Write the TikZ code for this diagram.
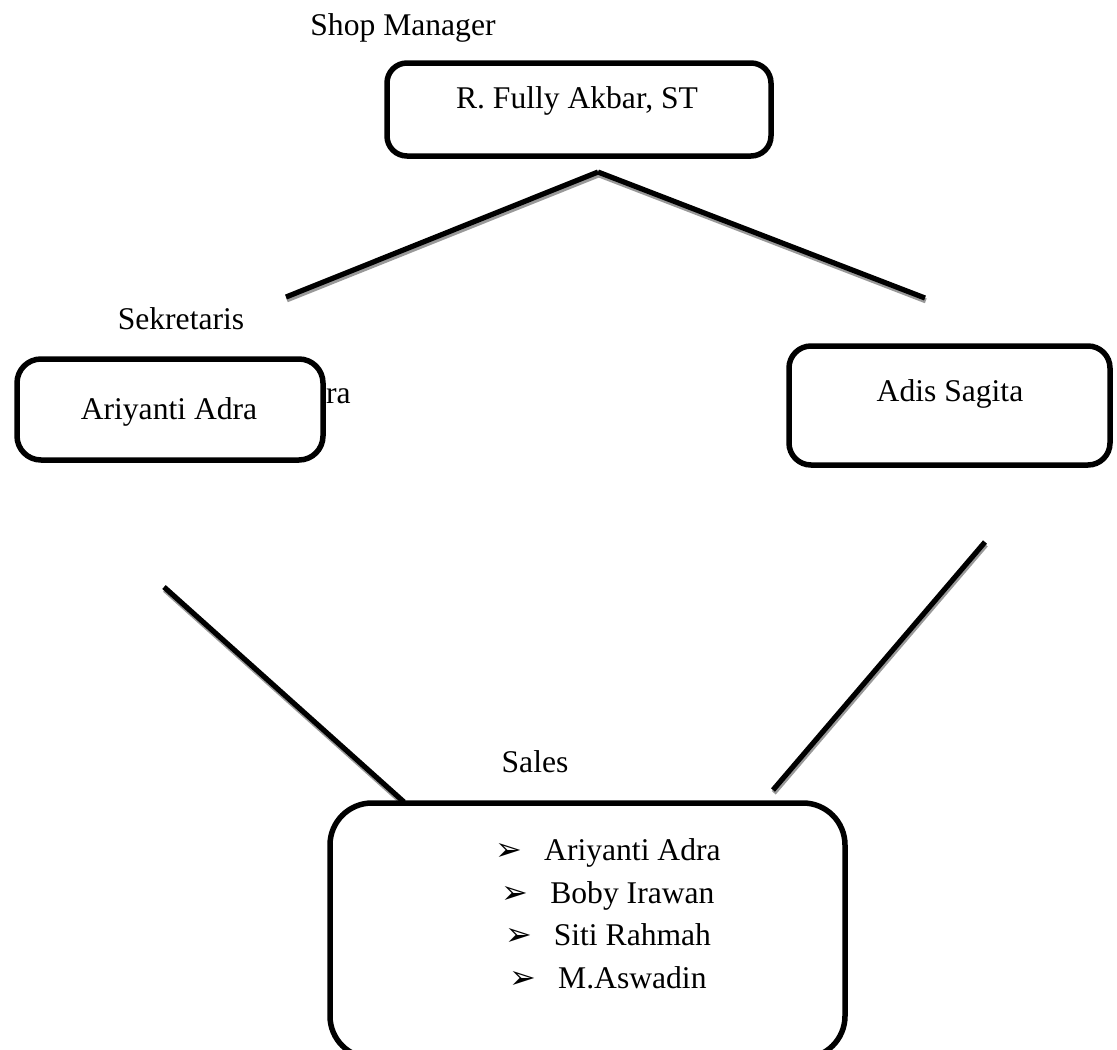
\documentclass[tikz,border=0pt]{standalone}
\usepackage{fontspec}
\setmainfont{Liberation Serif}
\newfontfamily\dejavu{DejaVu Sans}
\begin{document}
\begin{tikzpicture}[x=1pt,y=-1pt,
  box/.style={draw=black,line width=5.5pt,fill=white,inner sep=0pt,outer sep=0pt},
  lbl/.style={font=\fontsize{31.6}{38}\selectfont,anchor=base,inner sep=0pt},
  conn/.style={line width=5.2pt,black},
  shad/.style={line width=5.2pt,black!40}]
\useasboundingbox (0,0) rectangle (1117,1050);
\clip (0,0) rectangle (1117,1050);
% free ends of connectors
\coordinate (peak) at (598,172);
\coordinate (tl) at (286,297);
\coordinate (tr) at (925,298);
\coordinate (ll1) at (164,587);
\coordinate (ll2) at (404,802);
\coordinate (lr1) at (985,542);
\coordinate (lr2) at (773,790);
% connectors with shadow
\foreach \a/\b in {peak/tl,peak/tr,ll1/ll2,lr1/lr2}{
  \draw[shad] ([shift={(0.8,2.8)}]\a) -- ([shift={(0.8,2.8)}]\b);
  \draw[conn] (\a) -- (\b);
}
% boxes
\node[box,rounded corners=20pt,minimum width=384pt,minimum height=93pt] (mgrbox) at (579,109.5) {};
\node[box,rounded corners=24pt,minimum width=306pt,minimum height=101pt] (sekbox) at (170,409.5) {};
\node[box,rounded corners=22pt,minimum width=321pt,minimum height=119pt] (adisbox) at (949.5,405.5) {};
\node[box,rounded corners=42pt,minimum width=515pt,minimum height=255pt] (salesbox) at (587.5,930.5) {};
% texts
\node[lbl] (mgrlbl) at (403,35) {Shop Manager};
\node[lbl] (mgr) at (577,108) {R. Fully Akbar, ST};
\node[lbl] (seklbl) at (181,329) {Sekretaris};
\node[lbl,anchor=base west] (ra) at (326,403) {ra};
\node[lbl] (sek) at (169,419) {Ariyanti Adra};
\node[lbl] (adis) at (950,401) {Adis Sagita};
\node[lbl] (saleslbl) at (535,772) {Sales};
\newcommand{\bul}{{\dejavu\fontsize{32}{32}\selectfont ➢}\hspace{22pt}}
\node[lbl] (s1) at (608,860) {\bul Ariyanti Adra};
\node[lbl] (s2) at (608,903) {\bul Boby Irawan};
\node[lbl] (s3) at (608,945) {\bul Siti Rahmah};
\node[lbl] (s4) at (608,988) {\bul M.Aswadin};
\end{tikzpicture}
\end{document}
